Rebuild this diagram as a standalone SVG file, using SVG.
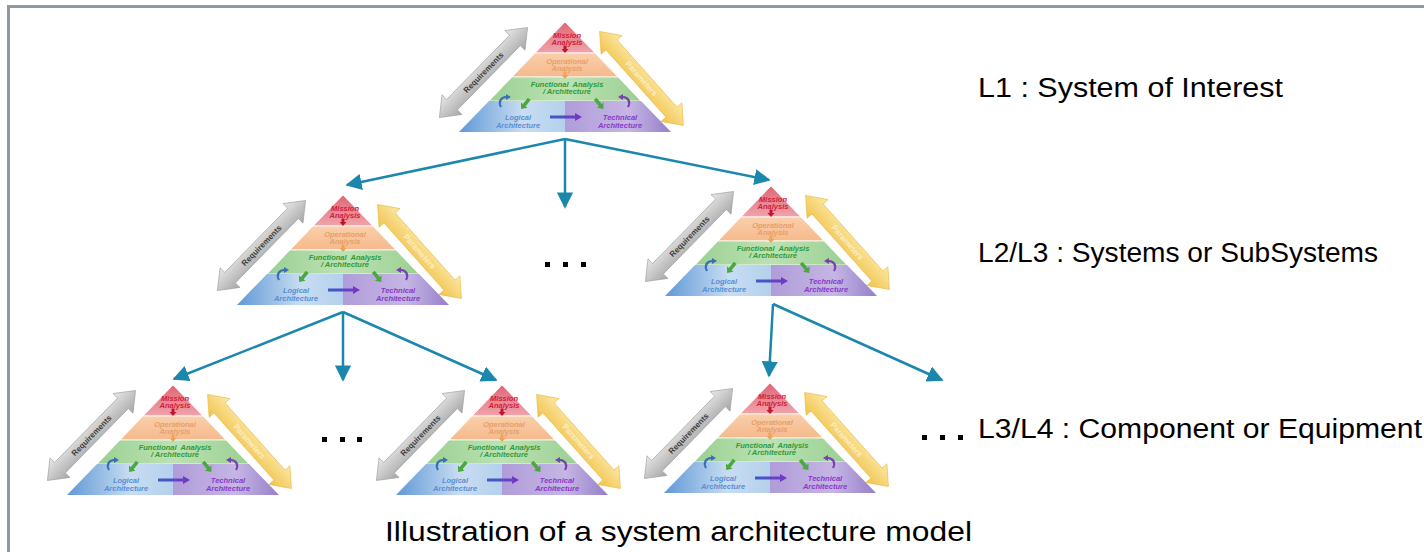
<svg xmlns="http://www.w3.org/2000/svg" xmlns:xlink="http://www.w3.org/1999/xlink" width="1424" height="552" viewBox="0 0 1424 552">
<style>
.lbl{font-family:"Liberation Sans",Arial,sans-serif;fill:#000;}
.pt{font-family:"Liberation Sans",Arial,sans-serif;font-size:7.5px;font-style:italic;font-weight:bold;text-anchor:middle;}
.conn{stroke:#1b87ad;stroke-width:2.5;fill:none;}
.dot{fill:#000;}
</style>
<defs>
<linearGradient id="gRed" x1="0" y1="0" x2="0" y2="1"><stop offset="0" stop-color="#e06675"/><stop offset="1" stop-color="#f0a4ac"/></linearGradient>
<linearGradient id="gOr" x1="0" y1="0" x2="0" y2="1"><stop offset="0" stop-color="#f9cfaa"/><stop offset="1" stop-color="#f6b98c"/></linearGradient>
<linearGradient id="gGr" x1="0" y1="0" x2="1" y2="0"><stop offset="0" stop-color="#9bd092"/><stop offset="0.5" stop-color="#bce2b3"/><stop offset="1" stop-color="#9bd092"/></linearGradient>
<linearGradient id="gBl" x1="0" y1="0" x2="1" y2="0"><stop offset="0" stop-color="#6098d6"/><stop offset="0.6" stop-color="#c8ddf2"/><stop offset="1" stop-color="#b4d0ec"/></linearGradient>
<linearGradient id="gPu" x1="0" y1="0" x2="1" y2="0"><stop offset="0" stop-color="#b09cd9"/><stop offset="0.6" stop-color="#c5b6e4"/><stop offset="1" stop-color="#957ec9"/></linearGradient>
<linearGradient id="gGray" x1="0" y1="0" x2="0" y2="1"><stop offset="0" stop-color="#e8e8e8"/><stop offset="1" stop-color="#a6a6a6"/></linearGradient>
<linearGradient id="gYel" x1="0" y1="0" x2="0" y2="1"><stop offset="0" stop-color="#fce9a8"/><stop offset="1" stop-color="#f1c34c"/></linearGradient>
<linearGradient id="gBP" x1="0" y1="0" x2="1" y2="0"><stop offset="0" stop-color="#3a5cc8"/><stop offset="1" stop-color="#7a34c4"/></linearGradient>
<g id="pyr">
  <g transform="translate(-81.5,50.5) rotate(-45.6)">
    <path d="M-63,0 L-45,-14 L-45,-7.5 L45,-7.5 L45,-14 L63,0 L45,14 L45,7.5 L-45,7.5 L-45,14 Z" fill="url(#gGray)" stroke="#9a9a9a" stroke-width="0.6"/>
    <text x="0" y="2.8" font-family="Liberation Sans, Arial, sans-serif" font-size="8" font-weight="bold" fill="#3c3c3c" text-anchor="middle">Requirements</text>
  </g>
  <g transform="translate(76.5,56.5) rotate(48.3)">
    <path d="M-63,0 L-45,-14 L-45,-7.5 L45,-7.5 L45,-14 L63,0 L45,14 L45,7.5 L-45,7.5 L-45,14 Z" fill="url(#gYel)" stroke="#e8b840" stroke-width="0.6"/>
    <text x="0" y="2.8" font-family="Liberation Sans, Arial, sans-serif" font-size="8" font-weight="bold" fill="#fbeec4" text-anchor="middle">Parameters</text>
  </g>
  <path d="M0,0 L30,31 L-30,31 Z" fill="url(#gRed)" stroke="#fff" stroke-width="0.8"/>
  <path d="M-30,31 L30,31 L53,55 L-53,55 Z" fill="url(#gOr)" stroke="#fff" stroke-width="0.8"/>
  <path d="M-53,55 L53,55 L76,79 L-76,79 Z" fill="url(#gGr)" stroke="#fff" stroke-width="0.8"/>
  <path d="M-76,79 L0,79 L0,110 L-106,110 Z" fill="url(#gBl)"/>
  <path d="M0,79 L76,79 L106,110 L0,110 Z" fill="url(#gPu)"/>
  <path d="M-1.5,23.5 L1.5,23.5 L1.5,27 L3.5,27 L0,31 L-3.5,27 L-1.5,27 Z" fill="#c4132e"/>
  <path d="M-1.5,49.5 L1.5,49.5 L1.5,53 L3.5,53 L0,57 L-3.5,53 L-1.5,53 Z" fill="#eba45a"/>
  <path d="M-15,93.5 L10,93.5 L10,91 L17,95 L10,99 L10,96.5 L-15,96.5 Z" fill="url(#gBP)"/>
  <g transform="translate(-39.5,81.5) rotate(129)"><path d="M-6,-1.8 L2,-1.8 L2,-4.2 L7,0 L2,4.2 L2,1.8 L-6,1.8 Z" fill="#4ca83c"/></g>
  <g transform="translate(34,81.5) rotate(51)"><path d="M-6,-1.8 L2,-1.8 L2,-4.2 L7,0 L2,4.2 L2,1.8 L-6,1.8 Z" fill="#4ca83c"/></g>
  <path d="M-64,85 C-67,80 -64,75 -59,75" fill="none" stroke="#3a6fb8" stroke-width="2.2"/>
  <path d="M-59,72 L-54,75 L-59,78 Z" fill="#3a6fb8"/>
  <path d="M63,85 C66,80 63,75 58,75" fill="none" stroke="#7840b0" stroke-width="2.2"/>
  <path d="M58,72 L53,75 L58,78 Z" fill="#7840b0"/>
  <text class="pt" x="2" y="16" fill="#d0203c">Mission</text>
  <text class="pt" x="2" y="23" fill="#d0203c">Analysis</text>
  <text class="pt" x="2" y="42" fill="#e6a06c" font-weight="normal">Operational</text>
  <text class="pt" x="2" y="49" fill="#e6a06c" font-weight="normal">Analysis</text>
  <text class="pt" x="2" y="65" fill="#2f9a3c" xml:space="preserve">Functional  Analysis</text>
  <text class="pt" x="2" y="72" fill="#2f9a3c">/ Architecture</text>
  <text class="pt" x="-47" y="98" fill="#5a8fd2" font-weight="normal">Logical</text>
  <text class="pt" x="-47" y="106" fill="#5a8fd2" font-weight="normal">Architecture</text>
  <text class="pt" x="55" y="98" fill="#8a38c8">Technical</text>
  <text class="pt" x="55" y="106" fill="#8a38c8">Architecture</text>
</g>
<marker id="ah" viewBox="0 0 10 10" refX="9" refY="5" markerWidth="6.5" markerHeight="6.5" orient="auto" markerUnits="strokeWidth">
  <path d="M0,0 L10,5 L0,10 Z" fill="#1b87ad"/>
</marker>
</defs>

<rect width="1424" height="552" fill="#fff"/>
<g id="frame">
  <path d="M8.5,552 L8.5,6.5 L1424,6.5" fill="none" stroke="#8e99a1" stroke-width="3"/>
</g>

<g id="connectors">
  <path class="conn" d="M565,139 L347,185" marker-end="url(#ah)"/>
  <path class="conn" d="M565,139 L565,207" marker-end="url(#ah)"/>
  <path class="conn" d="M565,139 L769,180" marker-end="url(#ah)"/>
  <path class="conn" d="M343,312 L174,379" marker-end="url(#ah)"/>
  <path class="conn" d="M343,312 L343,380" marker-end="url(#ah)"/>
  <path class="conn" d="M343,312 L496,380" marker-end="url(#ah)"/>
  <path class="conn" d="M773,304 L769,376" marker-end="url(#ah)"/>
  <path class="conn" d="M773,304 L942,380" marker-end="url(#ah)"/>
</g>

<g id="node-l1"><use xlink:href="#pyr" href="#pyr" transform="translate(565,22)"/></g>
<g id="node-l2a"><use xlink:href="#pyr" href="#pyr" transform="translate(343,195)"/></g>
<g id="node-l2b"><use xlink:href="#pyr" href="#pyr" transform="translate(771,186)"/></g>
<g id="node-l3a"><use xlink:href="#pyr" href="#pyr" transform="translate(173,385)"/></g>
<g id="node-l3b"><use xlink:href="#pyr" href="#pyr" transform="translate(502,385)"/></g>
<g id="node-l3c"><use xlink:href="#pyr" href="#pyr" transform="translate(770,383)"/></g>

<g id="ellipsis">
  <rect class="dot" x="545" y="262" width="5" height="5"/>
  <rect class="dot" x="563" y="262" width="5" height="5"/>
  <rect class="dot" x="581" y="262" width="5" height="5"/>
  <rect class="dot" x="322" y="437" width="5" height="5"/>
  <rect class="dot" x="340" y="437" width="5" height="5"/>
  <rect class="dot" x="357" y="437" width="5" height="5"/>
  <rect class="dot" x="922" y="435" width="5" height="5"/>
  <rect class="dot" x="940" y="435" width="5" height="5"/>
  <rect class="dot" x="958" y="435" width="5" height="5"/>
</g>

<g id="labels">
  <text class="lbl" x="978" y="97" font-size="27" textLength="305" lengthAdjust="spacingAndGlyphs">L1 : System of Interest</text>
  <text class="lbl" x="978" y="262" font-size="27" textLength="400" lengthAdjust="spacingAndGlyphs">L2/L3 : Systems or SubSystems</text>
  <text class="lbl" x="978" y="438" font-size="27" textLength="444" lengthAdjust="spacingAndGlyphs">L3/L4 : Component or Equipment</text>
  <text class="lbl" x="385" y="541" font-size="28" textLength="587" lengthAdjust="spacingAndGlyphs">Illustration of a system architecture model</text>
</g>
</svg>
